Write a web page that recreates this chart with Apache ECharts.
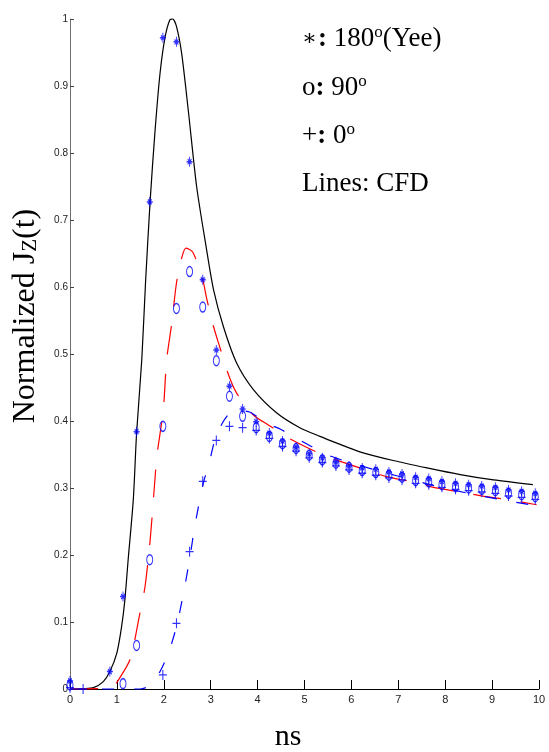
<!DOCTYPE html>
<html>
<head>
<meta charset="utf-8">
<script src="https://cdn.jsdelivr.net/npm/echarts@6/dist/echarts.min.js"></script>
<style>html,body{margin:0;padding:0;background:#fff;}#chart{width:549px;height:752px;}</style>
</head>
<body>
<div id="chart"></div>
<script>
// ---- Data ----
var sampleNs = [0,0.28,0.57,0.85,1.13,1.42,1.70,1.98,2.27,2.55,2.83,3.12,3.40,3.68,3.97,4.25,4.53,4.82,5.10,5.38,5.67,5.95,6.23,6.52,6.80,7.08,7.37,7.65,7.93,8.22,8.50,8.78,9.07,9.35,9.63,9.92];
var yee180 = [0.012,null,null,0.026,0.138,0.384,0.727,0.972,0.966,0.787,0.611,0.506,0.452,0.418,0.399,0.382,0.370,0.361,0.351,0.345,0.339,0.333,0.330,0.328,0.324,0.321,0.316,0.314,0.310,0.307,0.305,0.303,0.301,0.297,0.295,0.292];
var yee90 = [0.006,null,null,null,0.008,0.065,0.193,0.392,0.568,0.623,0.570,0.490,0.437,0.407,0.390,0.377,0.366,0.359,0.349,0.342,0.337,0.331,0.326,0.323,0.319,0.316,0.311,0.309,0.305,0.302,0.300,0.298,0.296,0.292,0.290,0.287];
var yee0 = [0.002,0.0,null,null,null,null,null,0.021,0.098,0.205,0.310,0.371,0.392,0.390,0.386,0.374,0.362,0.355,0.345,0.338,0.333,0.327,0.322,0.319,0.315,0.312,0.307,0.305,0.301,0.298,0.296,0.294,0.292,0.288,0.286,0.283];

var cfd180Ns  = [0,0.3,0.5,0.71,0.85,1.0,1.1,1.17,1.24,1.35,1.42,1.53,1.61,1.71,1.81,1.92,2.03,2.13,2.19,2.27,2.38,2.52,2.70,2.90,3.06,3.27,3.55,3.91,4.41,4.90,5.33,5.69,6.18,6.89,7.61,8.32,9.03,9.87];
var cfd180Val = [0,0.0005,0.002,0.011,0.026,0.054,0.093,0.133,0.193,0.283,0.382,0.491,0.606,0.730,0.830,0.919,0.974,0.999,1.0,0.989,0.949,0.865,0.750,0.661,0.596,0.541,0.487,0.447,0.412,0.390,0.377,0.367,0.354,0.341,0.330,0.320,0.312,0.305];

var cfd90Ns  = [0,0.9,1.0,1.28,1.49,1.60,1.71,1.81,1.85,1.99,2.06,2.17,2.27,2.38,2.47,2.62,2.83,2.91,3.06,3.2,3.38,3.55,3.91,4.23,4.65,5.01,5.51,6.18,6.75,7.32,7.75,8.25,8.88,9.31,9.95];
var cfd90Val = [0,0.002,0.010,0.044,0.113,0.153,0.223,0.312,0.347,0.417,0.491,0.546,0.606,0.643,0.658,0.652,0.611,0.584,0.541,0.509,0.469,0.442,0.409,0.394,0.375,0.362,0.346,0.330,0.317,0.309,0.301,0.295,0.287,0.283,0.275];

var cfd0Ns  = [0,1.5,1.7,1.81,1.92,2.10,2.27,2.42,2.56,2.66,2.77,2.86,2.95,3.09,3.25,3.41,3.6,3.84,3.98,4.25,4.48,4.94,5.47,5.83,6.61,7.2,7.68,8.5,9.31,9.9];
var cfd0Val = [0,0,0.005,0.016,0.026,0.054,0.093,0.143,0.198,0.243,0.283,0.312,0.332,0.372,0.397,0.412,0.416,0.413,0.407,0.395,0.388,0.370,0.350,0.341,0.325,0.314,0.305,0.292,0.281,0.274];

var xTicks = [0,1,2,3,4,5,6,7,8,9,10];
var yTicks = [0,0.1,0.2,0.3,0.4,0.5,0.6,0.7,0.8,0.9,1];

function pairs(xs, ys){ var out=[]; for(var i=0;i<xs.length;i++){ if(ys[i]!==null) out.push([xs[i], ys[i]]); } return out; }

var STAR = 'path://M0,-5L0,5M-4,0L4,0M-2.5,-2.5L2.5,2.5M-2.5,2.5L2.5,-2.5';
var PLUS = 'path://M0,-5L0,5M-4,0L4,0';
var RING = 'path://M0,-5A3,5,0,1,1,0,5A3,5,0,1,1,0,-5Z';
var blue = '#0000ff';
var serif = '"Liberation Serif","Times New Roman",serif';

var chart = echarts.init(document.getElementById('chart'), null, {renderer:'canvas'});
var option = {
  animation:false,
  backgroundColor:'#ffffff',
  grid:{left:70,right:10,top:19,bottom:63},
  xAxis:{type:'value',min:xTicks[0],max:xTicks[xTicks.length-1],interval:1,
    axisLine:{show:true,lineStyle:{color:'#000',width:1}},
    axisTick:{show:true,inside:true,length:9,lineStyle:{color:'#000',width:1}},
    axisLabel:{margin:5,fontSize:11,color:'#222',fontFamily:'"Liberation Sans",Arial,sans-serif'},
    splitLine:{show:false}},
  yAxis:{type:'value',min:yTicks[0],max:yTicks[yTicks.length-1],interval:0.1,
    axisLine:{show:true,lineStyle:{color:'#6f6f6f',width:1}},
    axisTick:{show:true,inside:true,length:4,lineStyle:{color:'#444',width:1}},
    axisLabel:{margin:2,fontSize:10,color:'#222',fontFamily:'"Liberation Sans",Arial,sans-serif',
      formatter:function(v){ if(Math.abs(v)<1e-9) return '0'; if(Math.abs(v-1)<1e-9) return '1'; return v.toFixed(1);} },
    splitLine:{show:false}},
  graphic:[
    {type:'text', x:26, y:316, rotation:Math.PI/2,
      style:{text:'Normalized J{sub|Z}(t)', font:'32px '+serif, fill:'#000', align:'center', verticalAlign:'middle',
        rich:{sub:{fontSize:21, fontFamily:serif, fill:'#000', padding:[9,0,0,0]}}}},
    {type:'text', x:288, y:737,
      style:{text:'ns', font:'30px '+serif, fill:'#000', align:'center', verticalAlign:'middle'}},
    {type:'text', x:302, y:39,
      style:{text:'{ast|∗}{b|:} 180{sup|o}(Yee)', font:'27px '+serif, fill:'#000', align:'left', verticalAlign:'middle',
        rich:{ast:{fontSize:22,fontFamily:'"DejaVu Serif",serif',padding:[0,1,0,0]}, b:{fontWeight:'bold',fontSize:27,fontFamily:serif}, sup:{fontSize:17,fontFamily:serif,padding:[0,0,12,0]}}}},
    {type:'text', x:302, y:88,
      style:{text:'o{b|:} 90{sup|o}', font:'27px '+serif, fill:'#000', align:'left', verticalAlign:'middle',
        rich:{b:{fontWeight:'bold',fontSize:27,fontFamily:serif}, sup:{fontSize:17,fontFamily:serif,padding:[0,0,12,0]}}}},
    {type:'text', x:302, y:136,
      style:{text:'+{b|:} 0{sup|o}', font:'27px '+serif, fill:'#000', align:'left', verticalAlign:'middle',
        rich:{b:{fontWeight:'bold',fontSize:27,fontFamily:serif}, sup:{fontSize:17,fontFamily:serif,padding:[0,0,12,0]}}}},
    {type:'text', x:302, y:184,
      style:{text:'Lines: CFD', font:'27px '+serif, fill:'#000', align:'left', verticalAlign:'middle'}}
  ],
  series:[
    {name:'CFD 180', type:'line', data:pairs(cfd180Ns,cfd180Val), showSymbol:false, smooth:0.25, clip:false,
      lineStyle:{color:'#000',width:1.2}, z:2},
    {name:'CFD 90', type:'line', data:pairs(cfd90Ns,cfd90Val), showSymbol:false, smooth:0.25, clip:false,
      lineStyle:{color:'#ff0000',width:1.2,type:[28,20]}, z:2},
    {name:'CFD 0', type:'line', data:pairs(cfd0Ns,cfd0Val), showSymbol:false, smooth:0.25, clip:false,
      lineStyle:{color:blue,width:1.2,type:[12,20]}, z:3},
    {name:'Yee 180', type:'scatter', data:pairs(sampleNs,yee180), symbol:STAR, symbolSize:[6,10], clip:false,
      itemStyle:{color:'none',borderColor:blue,borderWidth:1.2}, z:5},
    {name:'Yee 90', type:'scatter', data:pairs(sampleNs,yee90), symbol:RING, symbolSize:[6,10], clip:false,
      itemStyle:{color:'none',borderColor:blue,borderWidth:1.2}, z:5},
    {name:'Yee 0', type:'scatter', data:pairs(sampleNs,yee0), symbol:PLUS, symbolSize:[8,10], clip:false,
      itemStyle:{color:'none',borderColor:blue,borderWidth:1.2}, z:5}
  ]
};
chart.setOption(option);
</script>
</body>
</html>
